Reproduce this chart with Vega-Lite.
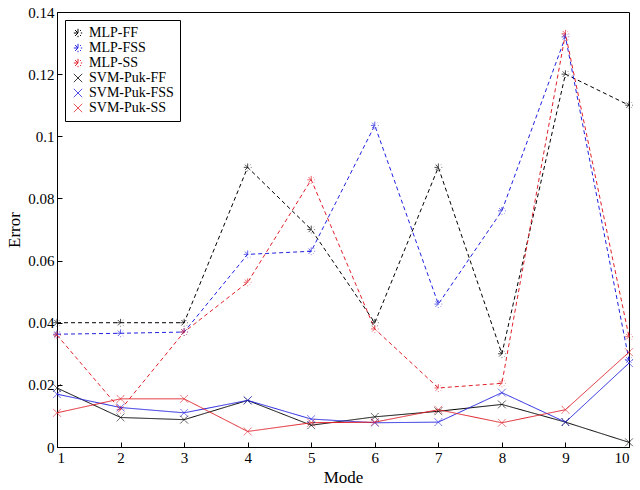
{
  "$schema": "https://vega.github.io/schema/vega-lite/v6.json",
  "width": 640,
  "height": 490,
  "autosize": {"type": "fit", "contains": "padding"},
  "data": {"values": [
    {"Mode":1,"Error":0.040,"s":"MLP-FF"},{"Mode":2,"Error":0.040,"s":"MLP-FF"},{"Mode":3,"Error":0.040,"s":"MLP-FF"},{"Mode":4,"Error":0.090,"s":"MLP-FF"},{"Mode":5,"Error":0.070,"s":"MLP-FF"},{"Mode":6,"Error":0.040,"s":"MLP-FF"},{"Mode":7,"Error":0.090,"s":"MLP-FF"},{"Mode":8,"Error":0.030,"s":"MLP-FF"},{"Mode":9,"Error":0.120,"s":"MLP-FF"},{"Mode":10,"Error":0.110,"s":"MLP-FF"},
    {"Mode":1,"Error":0.0363,"s":"MLP-FSS"},{"Mode":2,"Error":0.0366,"s":"MLP-FSS"},{"Mode":3,"Error":0.037,"s":"MLP-FSS"},{"Mode":4,"Error":0.062,"s":"MLP-FSS"},{"Mode":5,"Error":0.063,"s":"MLP-FSS"},{"Mode":6,"Error":0.1035,"s":"MLP-FSS"},{"Mode":7,"Error":0.046,"s":"MLP-FSS"},{"Mode":8,"Error":0.076,"s":"MLP-FSS"},{"Mode":9,"Error":0.132,"s":"MLP-FSS"},{"Mode":10,"Error":0.028,"s":"MLP-FSS"},
    {"Mode":1,"Error":0.036,"s":"MLP-SS"},{"Mode":2,"Error":0.012,"s":"MLP-SS"},{"Mode":3,"Error":0.037,"s":"MLP-SS"},{"Mode":4,"Error":0.053,"s":"MLP-SS"},{"Mode":5,"Error":0.086,"s":"MLP-SS"},{"Mode":6,"Error":0.038,"s":"MLP-SS"},{"Mode":7,"Error":0.019,"s":"MLP-SS"},{"Mode":8,"Error":0.0205,"s":"MLP-SS"},{"Mode":9,"Error":0.133,"s":"MLP-SS"},{"Mode":10,"Error":0.0355,"s":"MLP-SS"},
    {"Mode":1,"Error":0.019,"s":"SVM-Puk-FF"},{"Mode":2,"Error":0.0095,"s":"SVM-Puk-FF"},{"Mode":3,"Error":0.0088,"s":"SVM-Puk-FF"},{"Mode":4,"Error":0.015,"s":"SVM-Puk-FF"},{"Mode":5,"Error":0.007,"s":"SVM-Puk-FF"},{"Mode":6,"Error":0.0097,"s":"SVM-Puk-FF"},{"Mode":7,"Error":0.0115,"s":"SVM-Puk-FF"},{"Mode":8,"Error":0.0137,"s":"SVM-Puk-FF"},{"Mode":9,"Error":0.008,"s":"SVM-Puk-FF"},{"Mode":10,"Error":0.0015,"s":"SVM-Puk-FF"},
    {"Mode":1,"Error":0.017,"s":"SVM-Puk-FSS"},{"Mode":2,"Error":0.0127,"s":"SVM-Puk-FSS"},{"Mode":3,"Error":0.011,"s":"SVM-Puk-FSS"},{"Mode":4,"Error":0.015,"s":"SVM-Puk-FSS"},{"Mode":5,"Error":0.009,"s":"SVM-Puk-FSS"},{"Mode":6,"Error":0.0078,"s":"SVM-Puk-FSS"},{"Mode":7,"Error":0.008,"s":"SVM-Puk-FSS"},{"Mode":8,"Error":0.0175,"s":"SVM-Puk-FSS"},{"Mode":9,"Error":0.008,"s":"SVM-Puk-FSS"},{"Mode":10,"Error":0.027,"s":"SVM-Puk-FSS"},
    {"Mode":1,"Error":0.011,"s":"SVM-Puk-SS"},{"Mode":2,"Error":0.0155,"s":"SVM-Puk-SS"},{"Mode":3,"Error":0.0155,"s":"SVM-Puk-SS"},{"Mode":4,"Error":0.005,"s":"SVM-Puk-SS"},{"Mode":5,"Error":0.0078,"s":"SVM-Puk-SS"},{"Mode":6,"Error":0.008,"s":"SVM-Puk-SS"},{"Mode":7,"Error":0.012,"s":"SVM-Puk-SS"},{"Mode":8,"Error":0.0078,"s":"SVM-Puk-SS"},{"Mode":9,"Error":0.012,"s":"SVM-Puk-SS"},{"Mode":10,"Error":0.0305,"s":"SVM-Puk-SS"}
  ]},
  "encoding": {
    "x": {"field": "Mode", "type": "quantitative", "scale": {"domain": [1, 10], "nice": false},
          "axis": {"values": [1,2,3,4,5,6,7,8,9,10], "grid": false, "title": "Mode"}},
    "y": {"field": "Error", "type": "quantitative", "scale": {"domain": [0, 0.14], "nice": false},
          "axis": {"values": [0,0.02,0.04,0.06,0.08,0.1,0.12,0.14], "format": "~g", "grid": false, "title": "Error"}},
    "color": {"field": "s", "type": "nominal", "title": null,
      "scale": {"domain": ["MLP-FF","MLP-FSS","MLP-SS","SVM-Puk-FF","SVM-Puk-FSS","SVM-Puk-SS"],
                "range": ["#000000","#2020e0","#e0202a","#000000","#2020e0","#e0202a"]}},
    "strokeDash": {"field": "s", "type": "nominal", "title": null,
      "scale": {"domain": ["MLP-FF","MLP-FSS","MLP-SS","SVM-Puk-FF","SVM-Puk-FSS","SVM-Puk-SS"],
                "range": [[4,3],[4,3],[4,3],[1,0],[1,0],[1,0]]}},
    "shape": {"field": "s", "type": "nominal", "title": null,
      "scale": {"domain": ["MLP-FF","MLP-FSS","MLP-SS","SVM-Puk-FF","SVM-Puk-FSS","SVM-Puk-SS"],
                "range": ["M-1,0L1,0M0,-1L0,1M-0.7,-0.7L0.7,0.7M-0.7,0.7L0.7,-0.7","M-1,0L1,0M0,-1L0,1M-0.7,-0.7L0.7,0.7M-0.7,0.7L0.7,-0.7","M-1,0L1,0M0,-1L0,1M-0.7,-0.7L0.7,0.7M-0.7,0.7L0.7,-0.7","M-1,-1L1,1M-1,1L1,-1","M-1,-1L1,1M-1,1L1,-1","M-1,-1L1,1M-1,1L1,-1"]}}
  },
  "layer": [
    {"mark": {"type": "line", "strokeWidth": 1}},
    {"mark": {"type": "point", "filled": false, "size": 60, "strokeWidth": 1, "strokeDash": [1, 0]}}
  ],
  "config": {
    "font": "Liberation Serif",
    "view": {"stroke": "#000000", "strokeWidth": 1},
    "axis": {"labelFont": "Liberation Serif", "titleFont": "Liberation Serif", "labelFontSize": 15, "titleFontSize": 17, "titleFontWeight": "normal", "labelColor": "#000", "titleColor": "#000", "domainColor": "#000", "tickColor": "#000", "tickSize": -5, "labelPadding": 8},
    "legend": {"orient": "top-left", "offset": 8, "strokeColor": "#000", "fillColor": "#fff", "padding": 6, "labelFont": "Liberation Serif", "labelFontSize": 14, "symbolSize": 70, "rowPadding": 1, "symbolStrokeWidth": 1}
  }
}
